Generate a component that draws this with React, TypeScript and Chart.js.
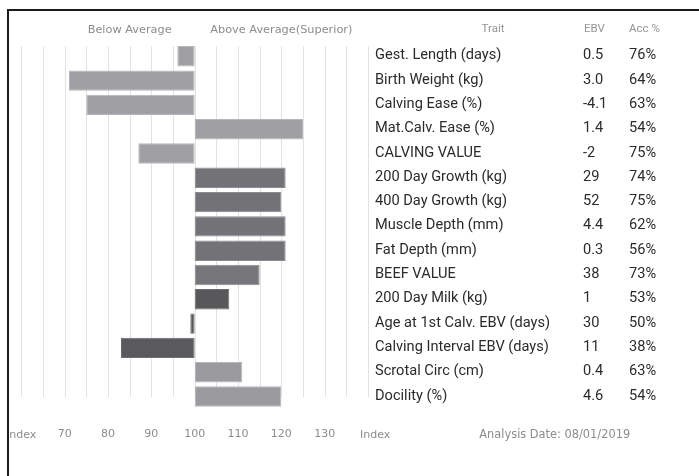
import React, { useEffect, useRef } from "react";
import { Chart, registerables } from "chart.js";

Chart.register(...registerables);

// ---------- data ----------
const traits = [
  "Gest. Length (days)",
  "Birth Weight (kg)",
  "Calving Ease (%)",
  "Mat.Calv. Ease (%)",
  "CALVING VALUE",
  "200 Day Growth (kg)",
  "400 Day Growth (kg)",
  "Muscle Depth (mm)",
  "Fat Depth (mm)",
  "BEEF VALUE",
  "200 Day Milk (kg)",
  "Age at 1st Calv. EBV (days)",
  "Calving Interval EBV (days)",
  "Scrotal Circ (cm)",
  "Docility (%)",
];
const ebvValues = ["0.5", "3.0", "-4.1", "1.4", "-2", "29", "52", "4.4", "0.3", "38", "1", "30", "11", "0.4", "4.6"];
const accuracyValues = ["76%", "64%", "63%", "54%", "75%", "74%", "75%", "62%", "56%", "73%", "53%", "50%", "38%", "63%", "54%"];
const indexValues = [96, 71, 75, 125, 87, 121, 120, 121, 121, 115, 108, 99, 83, 111, 120];
const axisTicks = [70, 80, 90, 100, 110, 120, 130];
const indexMin = 60;
const indexMax = 140;
const averageIndex = 100;
const columnHeaders = ["Trait", "EBV", "Acc %"];
const bandHeaders = ["Below Average", "Above Average(Superior)"];
const bandCentres = [85, 120];
const axisTitle = "Index";
const analysisDate = "Analysis Date: 08/01/2019";

// ---------- styles ----------
const LIGHT = "#a0a0a4";
const MID = "#737377";
const DARK = "#58585b";
const barFill = [LIGHT, LIGHT, LIGHT, LIGHT, LIGHT, MID, MID, MID, MID, "#77777b", DARK, DARK, "#5a5a5d", "#9b9b9f", "#9b9b9f"];
const edge = (c: string) => (c === LIGHT || c === "#9b9b9f" ? "#b6b6ba" : c === DARK || c === "#5a5a5d" ? "#6e6e72" : "#8b8b8f");
const barEdge = barFill.map(edge);

const GRAY_FONT = "DejaVu Sans";
const TABLE_FONT = "Roboto";

export default function App() {
  const ref = useRef<HTMLCanvasElement | null>(null);

  useEffect(() => {
    if (!ref.current) return;
    const overlay = {
      id: "overlay",
      beforeDatasetsDraw(chart: any) {
        const { ctx, chartArea, scales } = chart;
        const x = scales.x;
        ctx.save();
        ctx.strokeStyle = "#e2e2e2";
        ctx.lineWidth = 1;
        for (let v = indexMin; v <= indexMax; v += 5) {
          const px = Math.round(x.getPixelForValue(v)) + 0.5;
          ctx.beginPath();
          ctx.moveTo(px, chartArea.top + 2);
          ctx.lineTo(px, chartArea.bottom - 11.5);
          ctx.stroke();
        }
        ctx.restore();
      },
      afterDraw(chart: any) {
        const { ctx, scales } = chart;
        const x = scales.x;
        const y = scales.y;
        ctx.save();
        // band headers
        ctx.fillStyle = "#8c8c8c";
        ctx.font = `11.3px "${GRAY_FONT}"`;
        ctx.textAlign = "center";
        ctx.textBaseline = "alphabetic";
        bandHeaders.forEach((t, i) => ctx.fillText(t, x.getPixelForValue(bandCentres[i]), 22.3));
        // axis titles
        ctx.font = `11px "${GRAY_FONT}"`;
        ctx.textAlign = "right";
        ctx.fillText(axisTitle, x.getPixelForValue(indexMin) + 15, 426.5);
        ctx.textAlign = "left";
        ctx.fillText(axisTitle, x.getPixelForValue(indexMax) - 8, 426.5);
        ctx.font = `11.4px "${GRAY_FONT}"`;
        ctx.fillText(analysisDate, 470.3, 427);
        // table headers
        ctx.fillStyle = "#959595";
        ctx.font = `11.5px "${TABLE_FONT}"`;
        ctx.textAlign = "center";
        ctx.fillText(columnHeaders[0], 484, 20.5);
        ctx.textAlign = "left";
        ctx.fillText(columnHeaders[1], 575, 20.5);
        ctx.fillText(columnHeaders[2], 620, 20.5);
        // table rows
        ctx.fillStyle = "#2b2b2b";
        ctx.font = `14.6px "${TABLE_FONT}"`;
        traits.forEach((t, i) => {
          const py = y.getPixelForValue(i) + 3;
          ctx.fillText(t, 366, py);
          ctx.fillText(ebvValues[i], 574, py);
          ctx.fillText(accuracyValues[i], 620, py);
        });
        ctx.restore();
      },
    };

    const chart = new Chart(ref.current, {
      type: "bar",
      data: {
        labels: traits,
        datasets: [
          {
            data: indexValues,
            base: averageIndex,
            backgroundColor: barFill,
            borderColor: barEdge,
            borderWidth: 1,
            borderSkipped: false,
            categoryPercentage: 1,
            barPercentage: 0.84,
          } as any,
        ],
      },
      options: {
        indexAxis: "y",
        animation: false,
        responsive: false,
        maintainAspectRatio: false,
        layout: { padding: { left: 12.3, right: 331, top: 33.15, bottom: 27.35 } },
        plugins: { legend: { display: false }, tooltip: { enabled: false } },
        scales: {
          x: {
            type: "linear",
            min: indexMin,
            max: indexMax,
            grid: { display: false, drawTicks: true, tickLength: 19 },
            border: { display: false },
            afterBuildTicks: (s: any) => {
              s.ticks = [indexMin, ...axisTicks, indexMax].map((v) => ({ value: v }));
            },
            afterFit: (s: any) => {
              s.height = 40;
            },
            ticks: {
              autoSkip: false,
              maxRotation: 0,
              minRotation: 0,
              padding: 0,
              color: "#8c8c8c",
              font: { family: GRAY_FONT, size: 11 },
              callback: (v: any) => (axisTicks.includes(Number(v)) ? String(v) : ""),
            },
          },
          y: { display: false, offset: true },
        },
      },
      plugins: [overlay],
    });
    return () => chart.destroy();
  }, []);

  return (
    <div
      style={{
        position: "absolute",
        left: 7,
        top: 9,
        width: 692,
        height: 467,
        boxSizing: "border-box",
        borderTop: "2px solid #1a1a1a",
        borderLeft: "2px solid #1a1a1a",
        overflow: "hidden",
        background: "#fff",
      }}
    >
      <canvas ref={ref} width={690} height={465} style={{ display: "block" }} />
    </div>
  );
}
